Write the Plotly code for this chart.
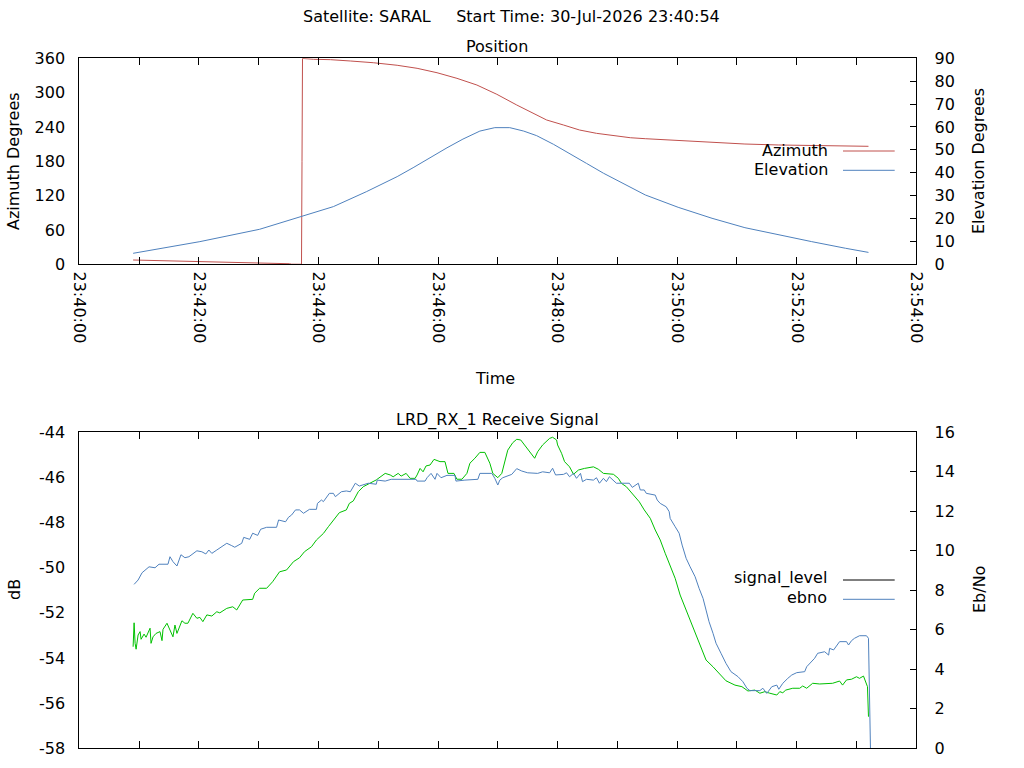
import pandas as pd
import plotly.graph_objects as go

start = pd.Timestamp("2026-07-30 23:40:54")
day = "2026-07-30 "

# ---- Position: elevation (deg) over time ----
elev_time = ["23:40:54", "23:42:01", "23:43:01", "23:43:41", "23:44:15", "23:44:48",
             "23:45:02", "23:45:19", "23:45:35", "23:45:52", "23:46:09", "23:46:25",
             "23:46:42", "23:46:57", "23:47:12", "23:47:26", "23:47:39", "23:47:56",
             "23:48:12", "23:48:29", "23:48:46", "23:49:03", "23:49:28", "23:50:01",
             "23:50:35", "23:51:08", "23:51:42", "23:52:15", "23:52:49", "23:53:12"]
elevation = [4.8, 9.9, 15.3, 20.8, 25.2, 31.7,
             34.6, 38.3, 42.2, 46.6, 50.9, 54.7,
             58.2, 59.7, 59.7, 58.2, 56.2, 52.4,
             48.5, 44.1, 39.8, 36.1, 30.3, 24.9,
             20.1, 16.0, 12.8, 9.9, 7.0, 5.2]

# ---- Position: azimuth (deg) over time, wraps 0 -> 360 ----
az_time = ["23:40:54", "23:41:28", "23:42:21", "23:43:01", "23:43:31", "23:43:33",
           "23:43:43", "23:43:43.5", "23:43:44", "23:43:55", "23:44:12", "23:44:32",
           "23:44:55", "23:45:19", "23:45:39", "23:45:59", "23:46:19", "23:46:39",
           "23:46:59", "23:47:19", "23:47:42", "23:47:49", "23:48:06", "23:48:22",
           "23:48:39", "23:48:56", "23:49:13", "23:49:28", "23:50:01", "23:50:35",
           "23:51:08", "23:51:42", "23:52:15", "23:52:49", "23:53:12"]
azimuth = [7.5, 6.3, 3.5, 1.7, 1.0, 0.2,
           0.1, 180.0, 359.8, 358.3, 357.6, 355.3,
           352.3, 347.8, 342.5, 334.8, 325.0, 313.3,
           297.1, 278.4, 258.0, 252.2, 243.4, 234.7,
           228.9, 224.7, 221.2, 219.5, 216.0, 212.5,
           210.2, 208.5, 207.3, 206.2, 206.2]

# ---- Receive signal: ebno (Eb/No) vs seconds after start ----
ebno_sec = [1, 5, 9, 13, 16, 22, 26, 35, 37, 40, 44, 48, 52, 56, 64, 69, 73, 76, 79, 84,
            94, 99, 102, 109, 111, 117, 120, 125, 128, 134, 144, 146, 153, 156, 159, 163,
            167, 171, 177, 184, 185, 189, 191, 197, 201, 203, 209, 214, 218, 223, 227, 236,
            244, 245, 253, 259, 284, 285, 293, 295, 299, 303, 305, 309, 315, 323, 324, 333,
            346, 348, 360, 363, 366, 368, 371, 380, 385, 390, 396, 406, 411, 418, 421, 424,
            432, 435, 438, 442, 445, 449, 451, 455, 462, 465, 468, 472, 475, 478, 482, 485,
            498, 501, 507, 509, 513, 515, 524, 526, 529, 535, 538, 539, 544, 548, 551, 555,
            559, 564, 568, 572, 575, 578, 582, 585, 590, 595, 600, 607, 612, 616, 619, 629,
            632, 636, 641, 646, 648, 652, 657, 661, 666, 674, 676, 679, 684, 687, 694, 698,
            699, 703, 706, 709, 716, 718, 721, 724, 729, 736, 738, 739, 740]
ebno = [8.30, 8.52, 8.89, 9.06, 9.19, 9.14, 9.32, 9.32, 9.70, 9.45, 9.23, 9.80, 9.65, 9.70,
        10.00, 9.95, 9.84, 10.04, 9.87, 10.04, 10.38, 10.26, 10.18, 10.38, 10.68, 10.58,
        10.89, 10.78, 11.09, 11.19, 11.19, 11.56, 11.47, 11.70, 11.81, 12.07, 12.07, 11.90,
        12.10, 12.10, 12.40, 12.57, 12.49, 12.91, 12.91, 12.74, 12.99, 13.03, 12.99, 13.42,
        13.28, 13.42, 13.37, 13.58, 13.53, 13.62, 13.62, 13.53, 13.53, 13.70, 13.92, 13.62,
        13.92, 13.70, 13.82, 13.82, 13.53, 13.58, 13.62, 13.92, 13.92, 13.67, 13.33, 13.58,
        13.70, 13.87, 14.16, 14.04, 13.95, 13.92, 14.00, 13.95, 14.18, 13.84, 13.87, 13.95,
        13.75, 13.92, 13.67, 13.92, 13.50, 13.62, 13.58, 13.70, 13.42, 13.67, 13.50, 13.75,
        13.58, 13.42, 13.42, 13.21, 13.42, 13.08, 13.08, 12.91, 12.82, 12.57, 12.40, 12.23,
        11.98, 11.64, 11.22, 10.89, 10.29, 9.62, 9.19, 8.69, 8.10, 7.59, 7.00, 6.41, 5.82,
        5.32, 4.81, 4.30, 3.88, 3.63, 3.37, 3.04, 2.92, 2.92, 3.04, 2.78, 3.12, 3.20, 2.99,
        3.29, 3.54, 3.71, 3.83, 3.88, 4.13, 4.30, 4.56, 4.81, 4.89, 4.72, 5.06, 4.98, 5.18,
        5.40, 5.40, 5.23, 5.45, 5.57, 5.70, 5.70, 5.57, 3.10, 0.0]

# ---- Receive signal: level (dB) vs seconds after start ----
level_sec = [0, 1, 2, 3, 5, 7, 8, 11, 13, 17, 18, 20, 23, 27, 29, 30, 34, 37, 40, 42, 44,
             49, 52, 55, 60, 64, 67, 70, 74, 79, 84, 87, 94, 100, 104, 110, 120, 122, 127,
             134, 140, 147, 154, 161, 167, 172, 179, 184, 191, 196, 201, 204, 207, 214, 217,
             221, 226, 231, 238, 244, 253, 258, 261, 266, 269, 274, 278, 283, 285, 288, 291,
             294, 298, 302, 308, 313, 316, 322, 325, 330, 335, 338, 343, 348, 353, 358, 361,
             366, 370, 373, 376, 381, 385, 389, 393, 398, 403, 406, 411, 418, 421, 425, 426,
             430, 433, 438, 442, 447, 453, 462, 467, 472, 482, 487, 490, 495, 502, 508, 513,
             519, 524, 529, 534, 539, 544, 549, 555, 562, 569, 575, 582, 589, 595, 604, 611,
             617, 624, 629, 634, 639, 646, 649, 652, 655, 662, 669, 672, 676, 682, 689, 696,
             702, 709, 712, 716, 721, 726, 729, 733, 735, 737, 738]
level_db = [-53.50, -52.44, -53.35, -53.61, -52.98, -52.83, -53.17, -52.94, -53.08, -52.68,
            -53.35, -53.06, -52.91, -52.83, -53.23, -52.73, -52.46, -52.73, -53.06, -52.54,
            -52.91, -52.35, -52.46, -52.46, -52.02, -52.24, -52.20, -52.39, -52.09, -52.14,
            -51.95, -52.00, -51.80, -51.73, -51.87, -51.43, -51.40, -51.13, -50.91, -50.91,
            -50.62, -50.18, -50.10, -49.73, -49.56, -49.29, -49.07, -48.77, -48.48, -48.18,
            -47.89, -47.74, -47.56, -47.44, -47.15, -47.04, -46.63, -46.41, -46.26, -46.11,
            -45.82, -45.89, -45.97, -45.82, -45.94, -45.82, -46.04, -46.04, -45.89, -45.60,
            -45.75, -45.49, -45.45, -45.20, -45.30, -45.30, -45.82, -45.82, -46.08, -46.08,
            -45.82, -45.37, -45.15, -44.89, -44.89, -45.37, -45.82, -46.01, -45.82, -45.23,
            -44.79, -44.46, -44.31, -44.34, -44.56, -44.86, -45.15, -44.86, -44.56, -44.27,
            -44.22, -44.34, -44.56, -44.93, -45.30, -45.53, -45.86, -45.67, -45.60, -45.53,
            -45.64, -45.82, -45.86, -46.04, -46.26, -46.41, -46.78, -47.08, -47.44, -47.81,
            -48.33, -48.77, -49.36, -49.96, -50.47, -51.21, -51.87, -52.61, -53.35, -54.09,
            -54.39, -54.75, -55.01, -55.20, -55.27, -55.46, -55.42, -55.56, -55.49, -55.56,
            -55.64, -55.49, -55.54, -55.42, -55.34, -55.34, -55.24, -55.34, -55.12, -55.15,
            -55.12, -55.12, -55.02, -55.20, -54.97, -54.94, -54.83, -54.90, -54.80, -55.05,
            -55.27, -56.60]

# x tick labels, one tick per minute, label every other
tick_times = ["23:%02d:00" % m for m in range(40, 55)]
tick_text = [t if i % 2 == 0 else "" for i, t in enumerate(tick_times)]
# dB tick labels with a plain hyphen (gnuplot style)
db_ticks = [-58, -56, -54, -52, -50, -48, -46, -44]
db_text = ["-58", "-56", "-54", "-52", "-50", "-48", "-46", "-44"]

RED = "#c0504d"
BLUE = "#4f81bd"
GREEN = "#00c000"
FONT = dict(family="DejaVu Sans", size=16, color="#000000")

def px_x(v):
    return v / 1024.0

def px_y(v):
    return 1 - v / 768.0

def to_dt(times):
    return pd.to_datetime([day + t for t in times], format="mixed")

el_x = to_dt(elev_time)
az_x = to_dt(az_time)
ebno_x = start + pd.to_timedelta(ebno_sec, unit="s")
level_x = start + pd.to_timedelta(level_sec, unit="s")
tickvals = to_dt(tick_times)

fig = go.Figure()
fig.add_trace(go.Scatter(x=az_x, y=azimuth, mode="lines", line=dict(color=RED, width=1),
                         xaxis="x", yaxis="y", name="Azimuth"))
fig.add_trace(go.Scatter(x=el_x, y=elevation, mode="lines", line=dict(color=BLUE, width=1),
                         xaxis="x", yaxis="y2", name="Elevation"))
fig.add_trace(go.Scatter(x=level_x, y=level_db, mode="lines", line=dict(color=GREEN, width=1),
                         xaxis="x2", yaxis="y3", name="signal_level"))
fig.add_trace(go.Scatter(x=ebno_x, y=ebno, mode="lines", line=dict(color=BLUE, width=1),
                         xaxis="x2", yaxis="y4", name="ebno"))

xdom = [px_x(79.3), px_x(916.3)]
xrange = [day + "23:40:00", day + "23:54:00"]
xcommon = dict(domain=xdom, range=xrange, type="date", tickmode="array", tickvals=tickvals,
               ticktext=tick_text, ticks="inside", ticklen=7, tickcolor="black",
               showline=True, linecolor="black", linewidth=1, mirror="ticks",
               showgrid=False, zeroline=False, tickfont=FONT, automargin=False)
ycommon = dict(showline=True, linecolor="black", linewidth=1, showgrid=False,
               zeroline=False, tickfont=FONT, ticklabelstandoff=10, automargin=False)

fig.update_layout(
    width=1024, height=768,
    margin=dict(l=0, r=0, t=0, b=0),
    paper_bgcolor="white", plot_bgcolor="white",
    showlegend=False,
    font=FONT,
    xaxis=dict(xcommon, anchor="y", tickangle=90, ticklabelstandoff=3),
    xaxis2=dict(xcommon, anchor="y3", showticklabels=False),
    yaxis=dict(ycommon, domain=[px_y(264.3), px_y(58.3)], range=[0, 360], dtick=60, ticks=""),
    yaxis2=dict(ycommon, overlaying="y", side="right", anchor="x", range=[0, 90], dtick=10,
                ticks="inside", ticklen=6, tickcolor="black", ticklabelstandoff=14),
    yaxis3=dict(ycommon, domain=[px_y(748.3), px_y(432.3)], range=[-58, -44],
                tickmode="array", tickvals=db_ticks, ticktext=db_text,
                ticks="", anchor="x2"),
    yaxis4=dict(ycommon, overlaying="y3", side="right", anchor="x2", range=[0, 16], dtick=2,
                ticks="inside", ticklen=6, tickcolor="black", ticklabelstandoff=14),
)

texts = [
    ("Satellite: SARAL&nbsp;&nbsp;&nbsp;&nbsp; Start Time: 30-Jul-2026 23:40:54", 511, 17, "center", 0),
    ("Position", 497, 46, "center", 0),
    ("Azimuth Degrees", 14, 161, "center", -90),
    ("Elevation Degrees", 979, 161, "center", -90),
    ("Time", 495, 379, "center", 0),
    ("LRD_RX_1 Receive Signal", 497, 420, "center", 0),
    ("dB", 14, 590, "center", -90),
    ("Eb/No", 979, 590, "center", -90),
    ("Azimuth", 830, 150, "right", 0),
    ("Elevation", 830, 169, "right", 0),
    ("signal_level", 829, 578, "right", 0),
    ("ebno", 829, 597, "right", 0),
]
for txt, x, y, anchor, ang in texts:
    fig.add_annotation(text=txt, x=px_x(x), y=px_y(y), xref="paper", yref="paper",
                       xanchor=anchor, yanchor="middle", showarrow=False, textangle=ang,
                       font=FONT)

# legend samples (gnuplot style: text then line)
for y, col in [(151, RED), (170.3, BLUE), (580, "black"), (599.3, BLUE)]:
    fig.add_shape(type="line", xref="paper", yref="paper", x0=px_x(843), x1=px_x(894.7),
                  y0=px_y(y), y1=px_y(y), line=dict(color=col, width=1))

# drop the page margin so the figure sits at the window's top-left corner
fig.write_html("out.html", config={"displayModeBar": False},
               post_script="document.body.style.margin='0px';")
